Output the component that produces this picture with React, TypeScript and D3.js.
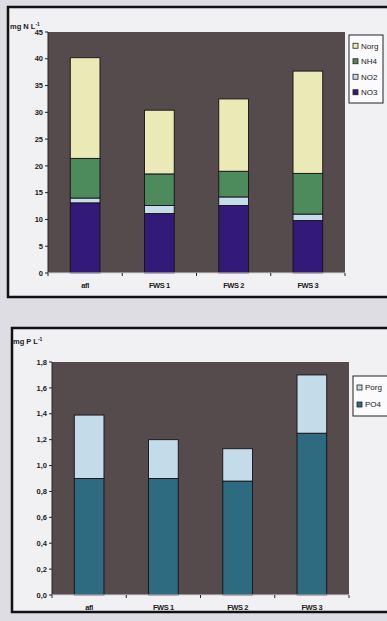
import React from "react";
import * as d3 from "d3";

// Nitrogen fractions (mg N/L) per sampling point
const categories = ["afl", "FWS 1", "FWS 2", "FWS 3"];
const no3 = [13.1, 11.1, 12.6, 9.8];
const no2 = [0.9, 1.5, 1.6, 1.2];
const nh4 = [7.4, 5.9, 4.8, 7.6];
const norg = [18.8, 11.9, 13.5, 19.1];
const nTicks = [0, 5, 10, 15, 20, 25, 30, 35, 40, 45];

// Phosphorus fractions (mg P/L)
const po4 = [0.9, 0.9, 0.88, 1.25];
const porg = [0.49, 0.3, 0.25, 0.45];
const pTicks = [0, 0.2, 0.4, 0.6, 0.8, 1.0, 1.2, 1.4, 1.6, 1.8];

const nSeries = [
  { key: "NO3", values: no3, color: "#341a78" },
  { key: "NO2", values: no2, color: "#c6dcea" },
  { key: "NH4", values: nh4, color: "#4d8a5c" },
  { key: "Norg", values: norg, color: "#ebe9b6" },
];
const pSeries = [
  { key: "PO4", values: po4, color: "#2e6b80" },
  { key: "Porg", values: porg, color: "#c4dcea" },
];

const FONT = "'Liberation Sans', Arial, sans-serif";
const PLOT_BG = "#564b4c";

type Series = { key: string; values: number[]; color: string };

function StackedPanel(props: {
  x0: number; x1: number; yTop: number; yBottom: number;
  max: number; ticks: number[]; fmt: (v: number) => string;
  series: Series[]; unit: string; unitX: number; unitY: number;
  legendX: number; legendY: number; legendW: number; legendRow: number;
}) {
  const { x0, x1, yTop, yBottom, max, ticks, fmt, series, unit, unitX, unitY,
    legendX, legendY, legendW, legendRow } = props;
  const x = d3.scaleBand<string>().domain(categories).range([x0, x1])
    .paddingInner(0.6).paddingOuter(0.3);
  const y = d3.scaleLinear().domain([0, max]).range([yBottom, yTop]);
  const table = categories.map((c, i) => {
    const row: Record<string, number | string> = { cat: c };
    series.forEach((s) => (row[s.key] = s.values[i]));
    return row;
  });
  const stack = d3.stack<Record<string, number | string>>()
    .keys(series.map((s) => s.key))
    .value((d, k) => d[k] as number);
  const layers = stack(table);
  const step = x.step();
  const legendItems = [...series].reverse();
  return (
    <g>
      <rect x={x0} y={yTop} width={x1 - x0} height={yBottom - yTop} fill={PLOT_BG} />
      {layers.map((layer, li) => (
        <g key={layer.key}>
          {layer.map((d, i) => (
            <rect key={i} x={x(categories[i])!} y={y(d[1])}
              width={x.bandwidth()} height={y(d[0]) - y(d[1])}
              fill={series[li].color} stroke="#141018" strokeWidth={0.9} />
          ))}
        </g>
      ))}
      {/* axes */}
      <line x1={x0} x2={x0} y1={yTop} y2={yBottom} stroke="#2a2424" strokeWidth={1} />
      <line x1={x0} x2={x1} y1={yBottom} y2={yBottom} stroke="#d8d4d6" strokeWidth={1} />
      {ticks.map((t) => (
        <g key={t}>
          <line x1={x0 - 3} x2={x0} y1={y(t)} y2={y(t)} stroke="#222" strokeWidth={1} />
          <text x={x0 - 5} y={y(t)} dy="0.35em" textAnchor="end" fontFamily={FONT}
            fontWeight="bold" fontSize={7.5} fill="#1a1a1a">{fmt(t)}</text>
        </g>
      ))}
      {d3.range(categories.length + 1).map((i) => (
        <line key={i} x1={x0 + i * step} x2={x0 + i * step} y1={yBottom} y2={yBottom + 3}
          stroke="#222" strokeWidth={1} />
      ))}
      {categories.map((c) => (
        <text key={c} x={x(c)! + x.bandwidth() / 2} y={yBottom + 15} textAnchor="middle"
          fontFamily={FONT} fontWeight="bold" fontSize={7.5} letterSpacing={-0.4}
          fill="#1a1a1a">{c}</text>
      ))}
      <text x={unitX} y={unitY} fontFamily={FONT} fontWeight="bold" fontSize={7.5}
        fill="#1a1a1a">{unit}<tspan dy={-3} fontSize={5}>-1</tspan></text>
      {/* legend */}
      <rect x={legendX} y={legendY} width={legendW} height={legendRow * legendItems.length + 6}
        fill="#fbfbfd" stroke="#222" strokeWidth={1} />
      {legendItems.map((s, i) => {
        const cy = legendY + 3 + legendRow * (i + 0.5);
        return (
          <g key={s.key}>
            <rect x={legendX + 4} y={cy - 2.5} width={5} height={5} fill={s.color}
              stroke="#222" strokeWidth={0.8} />
            <text x={legendX + 12} y={cy} dy="0.35em" fontFamily={FONT} fontSize={8}
              fill="#1a1a1a">{s.key}</text>
          </g>
        );
      })}
    </g>
  );
}

export default function App() {
  return (
    <svg width={387} height={621} style={{ position: "absolute", left: 0, top: 0 }}>
      <rect x={0} y={0} width={387} height={621} fill="#dedde3" />
      {/* panel frames */}
      <rect x={8} y={7} width={400} height={290} fill="#f1f1f4" stroke="#111" strokeWidth={2.5} />
      <rect x={12} y={328} width={400} height={284} fill="#f1f1f4" stroke="#111" strokeWidth={2.5} />
      <StackedPanel x0={48} x1={345} yTop={32} yBottom={273} max={45} ticks={nTicks}
        fmt={(v) => String(v)} series={nSeries} unit="mg N L" unitX={10} unitY={29}
        legendX={349} legendY={35} legendW={34} legendRow={15.5} />
      <StackedPanel x0={52} x1={349} yTop={362} yBottom={595} max={1.8} ticks={pTicks}
        fmt={(v) => d3.format(".1f")(v).replace(".", ",")} series={pSeries}
        unit="mg P L" unitX={13} unitY={344}
        legendX={353} legendY={376} legendW={40} legendRow={17} />
    </svg>
  );
}
